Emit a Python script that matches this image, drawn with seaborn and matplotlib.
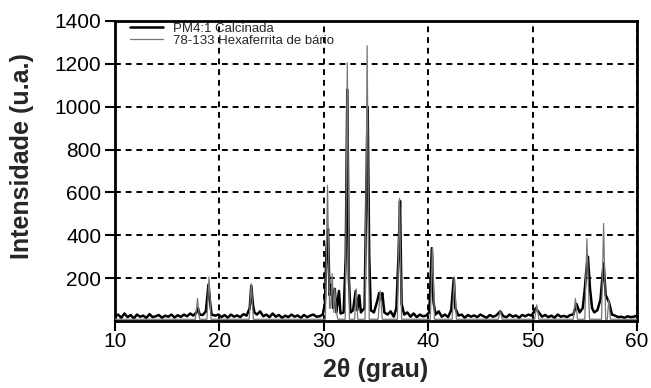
import pandas as pd
import numpy as np
import matplotlib
matplotlib.use('Agg')
import matplotlib.pyplot as plt
import seaborn as sns

calc_2theta = [10.0, 10.3, 10.6, 10.9, 11.2, 11.5, 11.8, 12.1, 12.4, 12.7, 13.0, 13.3, 13.6, 13.9,
               14.2, 14.5, 14.8, 15.1, 15.4, 15.7, 16.0, 16.3, 16.6, 16.9, 17.2, 17.5, 17.8, 17.95,
               18.1, 18.4, 18.7, 18.95, 19.1, 19.25, 19.6, 19.9, 20.2, 20.5, 20.8, 21.1, 21.4, 21.7,
               22.0, 22.3, 22.6, 22.9, 23.05, 23.2, 23.35, 23.6, 23.9, 24.2, 24.5, 24.8, 25.1, 25.4,
               25.7, 26.0, 26.3, 26.6, 26.9, 27.2, 27.5, 27.8, 28.1, 28.4, 28.7, 29.0, 29.3, 29.6,
               29.9, 30.1, 30.25, 30.4, 30.55, 30.75, 30.9, 31.05, 31.2, 31.45, 31.6, 31.9, 32.1,
               32.25, 32.4, 32.55, 32.8, 33.05, 33.2, 33.4, 33.55, 33.9, 34.1, 34.2, 34.35, 34.5,
               34.8, 35.1, 35.3, 35.45, 35.6, 35.8, 36.1, 36.4, 36.7, 36.95, 37.15, 37.3, 37.45,
               37.7, 38.0, 38.3, 38.6, 38.9, 39.2, 39.5, 39.8, 40.1, 40.35, 40.5, 40.7, 41.0, 41.3,
               41.6, 41.9, 42.2, 42.45, 42.6, 42.9, 43.2, 43.5, 43.8, 44.1, 44.4, 44.7, 45.0, 45.3,
               45.6, 45.9, 46.2, 46.5, 46.9, 47.2, 47.5, 47.8, 48.1, 48.4, 48.7, 49.0, 49.3, 49.6,
               49.9, 50.15, 50.3, 50.6, 50.9, 51.2, 51.5, 51.8, 52.1, 52.4, 52.7, 53.0, 53.3, 53.6,
               53.9, 54.2, 54.5, 54.8, 55.0, 55.15, 55.3, 55.5, 55.7, 55.9, 56.2, 56.5, 56.8, 57.0,
               57.3, 57.6, 57.9, 58.2, 58.5, 58.8, 59.1, 59.4, 59.7, 60.0]
calc_counts = [20, 30, 15, 35, 18, 28, 12, 30, 20, 25, 14, 32, 18, 22,
               28, 15, 25, 20, 30, 16, 27, 19, 30, 22, 35, 25, 40, 60,
               30, 28, 45, 170, 90, 30, 25, 30, 18, 28, 15, 30, 20, 26,
               18, 32, 25, 60, 165, 80, 40, 30, 45, 22, 30, 18, 35, 20,
               28, 15, 25, 18, 30, 20, 26, 15, 28, 18, 25, 30, 20, 22,
               30, 80, 330, 430, 120, 170, 60, 150, 40, 140, 35, 40, 300,
               1080, 200, 40, 50, 140, 50, 120, 40, 60, 700, 1000, 300, 50,
               40, 90, 130, 100, 130, 40, 30, 45, 20, 60, 300, 560, 80,
               30, 40, 20, 35, 18, 30, 22, 25, 40, 340, 90, 30, 45, 20,
               30, 18, 50, 200, 60, 25, 30, 15, 28, 20, 26, 18, 30, 22,
               15, 28, 20, 25, 45, 22, 18, 30, 20, 26, 15, 28, 22, 30,
               25, 45, 60, 40, 20, 28, 18, 25, 15, 30, 20, 24, 18, 28,
               30, 80, 40, 60, 150, 240, 300, 150, 60, 40, 50, 100, 270, 120,
               90, 30, 25, 18, 20, 15, 22, 18, 20, 25]

# 78-133 Hexaferrita de bario (reference pattern)
ref_2theta = [10.0, 17.7, 17.9, 18.1, 18.8, 19.0, 19.2, 22.85, 23.05, 23.25, 30.15, 30.35, 30.55,
              30.65, 30.8, 30.95, 31.05, 31.2, 31.35, 32.05, 32.25, 32.45, 32.95, 33.1, 33.25,
              33.95, 34.15, 34.35, 35.2, 35.4, 35.6, 37.05, 37.25, 37.45, 40.2, 40.4, 40.6, 42.3,
              42.5, 42.7, 46.7, 46.9, 47.1, 50.2, 50.4, 50.6, 53.9, 54.1, 54.3, 55.0, 55.2, 55.45,
              56.6, 56.8, 57.0, 57.15, 57.3, 57.45, 60.0]
ref_counts = [8, 8, 105, 8, 8, 205, 8, 8, 173, 8, 8, 633, 60,
              60, 220, 40, 150, 40, 8, 8, 1205, 8, 8, 150, 8,
              8, 1284, 8, 8, 140, 8, 8, 572, 8, 8, 342, 8, 8,
              205, 8, 8, 45, 8, 8, 75, 8, 8, 105, 8, 8, 384, 8,
              8, 455, 8, 8, 100, 8, 8]

x_ticks = [10, 20, 30, 40, 50, 60]
y_ticks = [200, 400, 600, 800, 1000, 1200, 1400]

calc = pd.DataFrame({'2theta': calc_2theta, 'I': calc_counts})
ref = pd.DataFrame({'2theta': ref_2theta, 'I': ref_counts})

sns.set_style('white')
plt.rcParams['font.family'] = ['Liberation Sans', 'DejaVu Sans']

fig = plt.figure(figsize=(6.51, 3.88), dpi=100)
ax = fig.add_axes([0.1767, 0.1727, 0.8018, 0.7732])

sns.lineplot(data=calc, x='2theta', y='I', ax=ax, color='black', linewidth=1.8,
             sort=False, estimator=None, label='PM4:1 Calcinada', zorder=3)
sns.lineplot(data=ref, x='2theta', y='I', ax=ax, color='#777777', linewidth=0.9,
             sort=False, estimator=None, label='78-133 Hexaferrita de bário', zorder=4)

ax.set_xlim(10, 60)
ax.set_ylim(0, 1400)
ax.set_xticks(x_ticks)
ax.set_yticks(y_ticks)
ax.grid(True, color='black', linestyle=(0, (3, 2.5)), linewidth=1.4)
ax.set_axisbelow(True)

for s in ax.spines.values():
    s.set_linewidth(2)
    s.set_color('black')
ax.tick_params(direction='out', length=7, width=1.5, labelsize=15, colors='black',
               bottom=True, left=True)
ax.tick_params(axis='x', pad=1)
ax.tick_params(axis='y', pad=3)
ax.set_xlabel('2θ (grau)', fontsize=18, fontweight='bold', labelpad=5)
ax.set_ylabel('Intensidade (u.a.)', fontsize=18, fontweight='bold')
ax.yaxis.set_label_coords(-0.155, 0.55)

leg = ax.legend(loc='upper left', bbox_to_anchor=(0.027, 1.0), frameon=False, fontsize=9.5,
                handlelength=2.5, borderaxespad=0, borderpad=0.1, labelspacing=0.0,
                handletextpad=0.7)
leg.get_lines()[0].set_linewidth(1.8)
leg.get_lines()[1].set_linewidth(0.9)

fig.savefig('out.png', dpi=100)
